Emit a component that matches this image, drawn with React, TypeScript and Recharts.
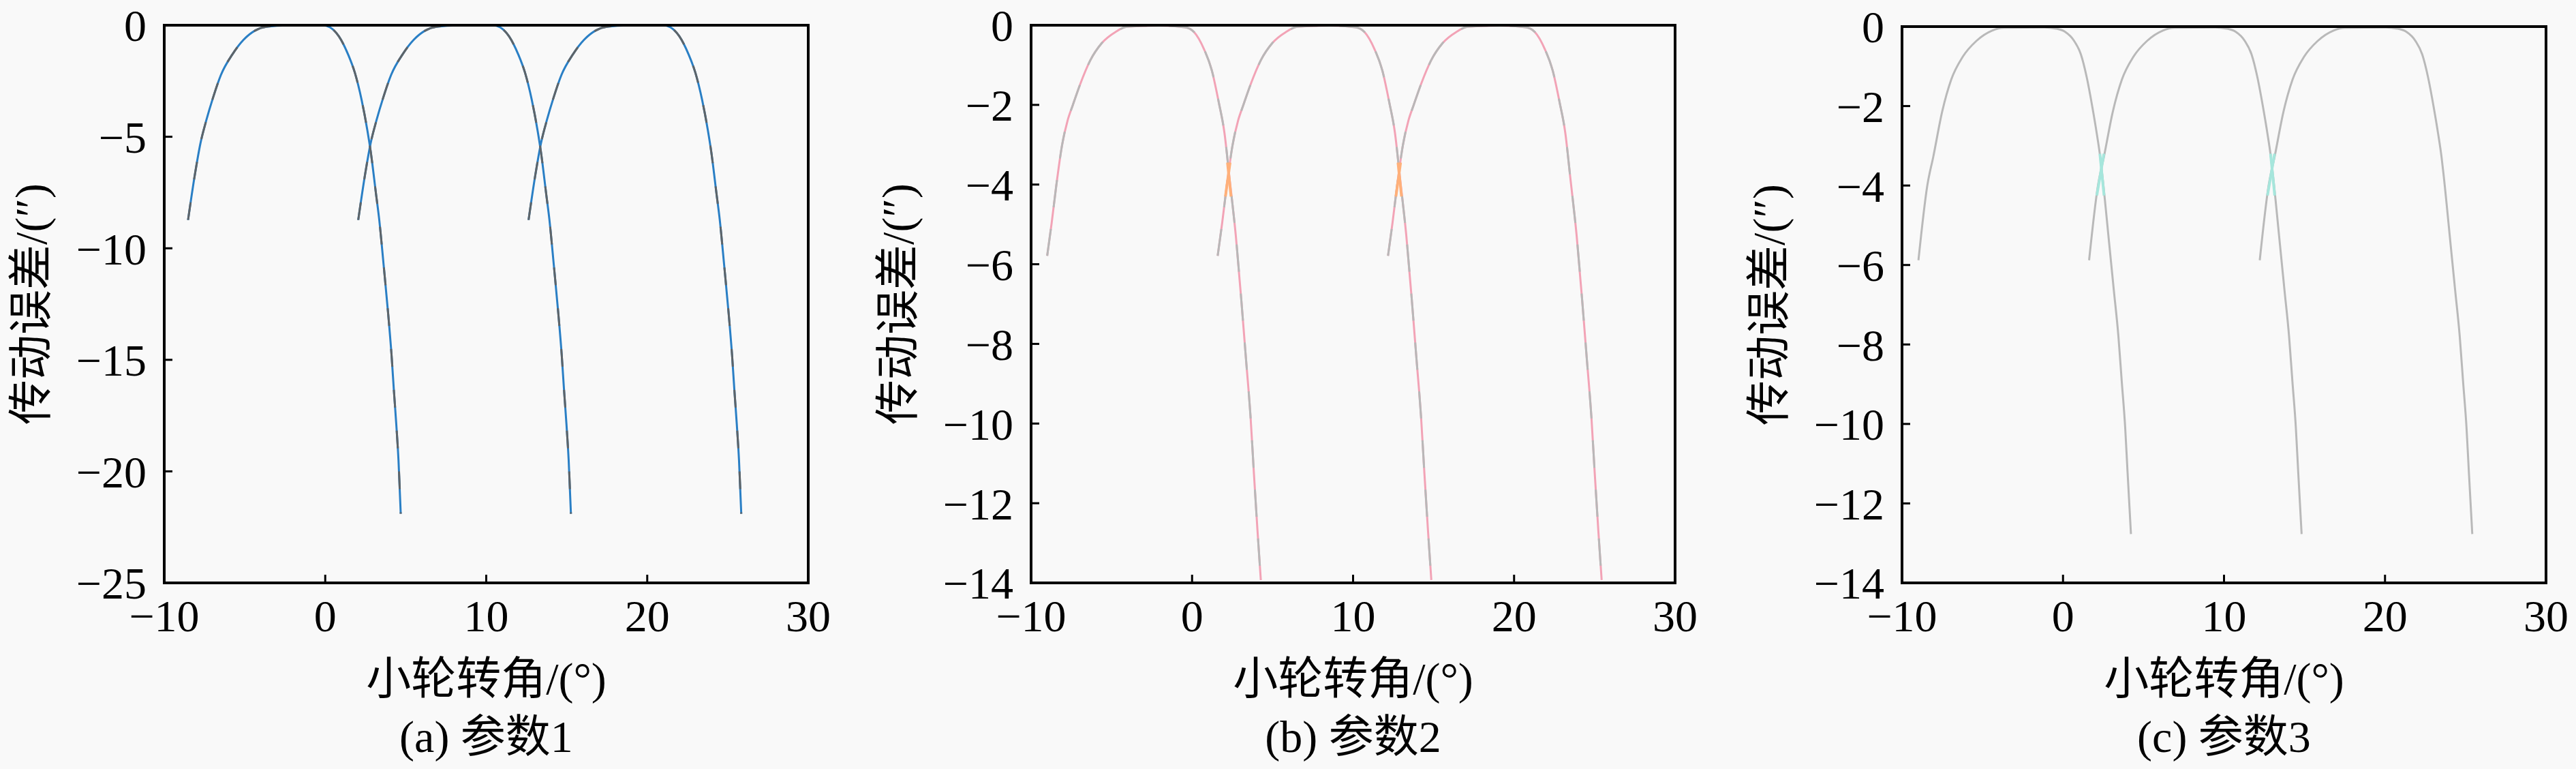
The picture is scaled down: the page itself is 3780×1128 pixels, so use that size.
import { LineChart, Line, XAxis, YAxis } from 'recharts';

// axis ticks
const X_TICKS = [-10, 0, 10, 20, 30];
const Y_TICKS_A = [-25, -20, -15, -10, -5, 0];
const Y_TICKS_BC = [-14, -12, -10, -8, -6, -4, -2, 0];

const PROFILE_A_X = [-8.52, -8.1, -7.75, -7.39, -6.97, -6.48, -5.77, -5.07, -4.36, -3.66, -2.26, -0.15, 0.29, 0.85, 1.42, 1.84, 2.26, 2.61, 2.83, 3.16, 3.35, 3.63, 3.91, 4.12, 4.26, 4.41, 4.55, 4.69];
const PROFILE_A_Y = [-8.73, -6.71, -5.29, -4.27, -3.25, -2.23, -1.31, -0.65, -0.24, -0.07, -0.01, 0, -0.09, -0.5, -1.31, -2.13, -3.35, -4.68, -5.69, -7.6, -8.69, -10.77, -12.95, -14.8, -16.33, -17.86, -19.5, -21.9];

const PROFILE_B_X = [-9.0, -8.72, -8.43, -8.08, -7.73, -7.42, -6.95, -6.32, -5.61, -4.76, -4.06, -2.08, -0.44, 0.12, 0.74, 1.23, 1.66, 2.01, 2.32, 2.72, 3.07, 3.35, 3.63, 3.84, 4.06, 4.27];
const PROFILE_B_Y = [-5.79, -4.96, -4.01, -3.02, -2.39, -2.02, -1.48, -0.88, -0.45, -0.17, -0.04, -0.01, -0.05, -0.17, -0.6, -1.14, -1.94, -2.7, -3.82, -5.3, -6.96, -8.39, -9.82, -11.25, -12.67, -13.93];

const PROFILE_C_X = [-8.98, -8.43, -8.06, -7.5, -6.94, -6.23, -5.38, -4.4, -3.69, -1.15, -0.44, 0.12, 0.69, 1.11, 1.47, 1.82, 2.1, 2.31, 2.43, 2.88, 3.16, 3.44, 3.65, 3.86, 4.01, 4.22];
const PROFILE_C_Y = [-5.88, -4.0, -3.28, -2.13, -1.33, -0.76, -0.36, -0.1, -0.03, -0.02, -0.05, -0.13, -0.36, -0.7, -1.27, -2.02, -2.7, -3.28, -3.7, -5.51, -6.65, -7.79, -8.94, -10.08, -11.22, -12.77];

// where the next tooth pairs start, relative to the first one (degrees)
const TOOTH_SHIFT_A = [0, 10.57, 21.15];
const TOOTH_SHIFT_B = [0, 10.59, 21.17];
const TOOTH_SHIFT_C = [0, 10.6, 21.2];

// coloured bits where two neighbouring curves cross (first crossing; the second is one pitch later)
const CROSS_B_OUT_X = [2.2, 2.42];
const CROSS_B_OUT_Y = [-3.45, -4.3];
const CROSS_B_IN_X = [2.07, 2.36];
const CROSS_B_IN_Y = [-4.3, -3.45];
const CROSS_SHIFT_B = [0, 10.59];

const CROSS_C_OUT_X = [2.29, 2.55];
const CROSS_C_OUT_Y = [-3.2, -4.25];
const CROSS_C_IN_X = [2.1, 2.54];
const CROSS_C_IN_Y = [-4.25, -3.2];
const CROSS_SHIFT_C = [0, 10.6];

const FONT = "'Liberation Serif', 'Times New Roman', 'Noto Sans CJK SC', serif";
const FONT_SIZE = 66;
const Y_AXIS_W = 240;
const PLOT_W = 945;
const RIGHT_PAD = 60;
const CHART_W = Y_AXIS_W + PLOT_W + RIGHT_PAD;
const PAGE_H = 1128;
const FRAME = 4;

const fmt = (v: number) => (v < 0 ? `\u2212${Math.abs(v)}` : `${v}`);

function toPoints(xs: number[], ys: number[], shift: number) {
  return xs.map((x, i) => ({ x: +(x + shift).toFixed(2), y: ys[i] }));
}

interface Cross {
  outX: number[];
  outY: number[];
  inX: number[];
  inY: number[];
  shifts: number[];
  color: string;
}

interface PanelProps {
  plotLeft: number;
  plotTop: number;
  plotHeight: number;
  yDomain: [number, number];
  yTicks: number[];
  xs: number[];
  ys: number[];
  shifts: number[];
  color: string;
  overlay?: string;
  dash?: string;
  cross?: Cross;
  caption: string;
}

const textStyle = {
  position: 'absolute' as const,
  whiteSpace: 'nowrap' as const,
  fontFamily: FONT,
  fontSize: FONT_SIZE,
  lineHeight: 1,
  color: '#000',
};

function Panel({ plotLeft, plotTop, plotHeight, yDomain, yTicks, xs, ys, shifts, color, overlay, dash, cross, caption }: PanelProps) {
  const axisLine = { stroke: '#000', strokeWidth: FRAME };
  const tickLine = { stroke: '#000', strokeWidth: 3 };
  const tickFont = { fill: '#000', fontSize: FONT_SIZE, fontFamily: FONT };
  const cx = plotLeft + PLOT_W / 2;
  const cy = plotTop + plotHeight / 2;
  const curves = shifts.map((s) => toPoints(xs, ys, s));
  const crossSegs = cross
    ? cross.shifts.flatMap((s) => [toPoints(cross.outX, cross.outY, s), toPoints(cross.inX, cross.inY, s)])
    : [];

  return (
    <>
      <div style={{ position: 'absolute', left: plotLeft - Y_AXIS_W, top: 0 }}>
        <LineChart
          width={CHART_W}
          height={PAGE_H}
          margin={{ top: plotTop, right: RIGHT_PAD, left: 0, bottom: 0 }}
        >
          <XAxis
            type="number"
            dataKey="x"
            domain={[-10, 30]}
            ticks={X_TICKS}
            interval={0}
            allowDataOverflow
            tickFormatter={fmt}
            tickSize={-12}
            tickMargin={36}
            height={PAGE_H - plotTop - plotHeight}
            stroke="#000"
            axisLine={axisLine}
            tickLine={tickLine}
            tick={tickFont}
          />
          <XAxis
            xAxisId="top"
            orientation="top"
            type="number"
            dataKey="x"
            domain={[-10, 30]}
            ticks={X_TICKS}
            interval={0}
            tick={false}
            tickSize={-12}
            height={0}
            stroke="#000"
            axisLine={axisLine}
            tickLine={tickLine}
          />
          <YAxis
            type="number"
            domain={yDomain}
            ticks={yTicks}
            interval={0}
            allowDataOverflow
            tickFormatter={fmt}
            tickSize={-12}
            tickMargin={38}
            width={Y_AXIS_W}
            stroke="#000"
            axisLine={axisLine}
            tickLine={tickLine}
            tick={tickFont}
          />
          <YAxis
            yAxisId="right"
            orientation="right"
            type="number"
            domain={yDomain}
            ticks={yTicks}
            interval={0}
            tick={false}
            tickSize={-12}
            width={0}
            stroke="#000"
            axisLine={axisLine}
            tickLine={tickLine}
          />
          {curves.map((pts, i) => (
            <Line
              key={`base-${i}`}
              data={pts}
              dataKey="y"
              type="monotone"
              stroke={color}
              strokeWidth={3}
              dot={false}
              activeDot={false}
              isAnimationActive={false}
            />
          ))}
          {overlay &&
            curves.map((pts, i) => (
              <Line
                key={`over-${i}`}
                data={pts}
                dataKey="y"
                type="monotone"
                stroke={overlay}
                strokeWidth={3}
                strokeDasharray={dash}
                dot={false}
                activeDot={false}
                isAnimationActive={false}
              />
            ))}
          {crossSegs.map((pts, i) => (
            <Line
              key={`cross-${i}`}
              data={pts}
              dataKey="y"
              type="linear"
              stroke={cross!.color}
              strokeWidth={4}
              dot={false}
              activeDot={false}
              isAnimationActive={false}
            />
          ))}
        </LineChart>
      </div>
      {/* box around the plot area */}
      <div
        style={{
          position: 'absolute',
          left: plotLeft - FRAME / 2,
          top: plotTop - FRAME / 2,
          width: PLOT_W + FRAME,
          height: plotHeight + FRAME,
          border: `${FRAME}px solid #000`,
          boxSizing: 'border-box',
          pointerEvents: 'none',
        }}
      />
      <div
        style={{
          ...textStyle,
          left: plotLeft - 195,
          top: cy,
          transform: 'translate(-50%, -50%) rotate(-90deg)',
        }}
      >
        传动误差/(″)
      </div>
      <div style={{ ...textStyle, left: cx, top: 996, transform: 'translate(-50%, -50%)' }}>
        小轮转角/(°)
      </div>
      <div style={{ ...textStyle, left: cx, top: 1081, transform: 'translate(-50%, -50%)' }}>
        {caption}
      </div>
    </>
  );
}

export default function App() {
  return (
    <div
      style={{
        position: 'absolute',
        left: 0,
        top: 0,
        width: 3780,
        height: PAGE_H,
        background: '#f9f9f9',
        overflow: 'hidden',
      }}
    >
      <Panel
        plotLeft={241}
        plotTop={37}
        plotHeight={818}
        yDomain={[-25, 0]}
        yTicks={Y_TICKS_A}
        xs={PROFILE_A_X}
        ys={PROFILE_A_Y}
        shifts={TOOTH_SHIFT_A}
        color="#2a7fc5"
        overlay="#5e6468"
        dash="26 34"
        caption="(a) 参数1"
      />
      <Panel
        plotLeft={1513}
        plotTop={37}
        plotHeight={818}
        yDomain={[-14, 0]}
        yTicks={Y_TICKS_BC}
        xs={PROFILE_B_X}
        ys={PROFILE_B_Y}
        shifts={TOOTH_SHIFT_B}
        color="#f2a3b6"
        overlay="#b8b8b8"
        dash="40 32"
        cross={{
          outX: CROSS_B_OUT_X,
          outY: CROSS_B_OUT_Y,
          inX: CROSS_B_IN_X,
          inY: CROSS_B_IN_Y,
          shifts: CROSS_SHIFT_B,
          color: '#ffb07a',
        }}
        caption="(b) 参数2"
      />
      <Panel
        plotLeft={2791}
        plotTop={39}
        plotHeight={816}
        yDomain={[-14, 0]}
        yTicks={Y_TICKS_BC}
        xs={PROFILE_C_X}
        ys={PROFILE_C_Y}
        shifts={TOOTH_SHIFT_C}
        color="#b9b9b9"
        cross={{
          outX: CROSS_C_OUT_X,
          outY: CROSS_C_OUT_Y,
          inX: CROSS_C_IN_X,
          inY: CROSS_C_IN_Y,
          shifts: CROSS_SHIFT_C,
          color: '#a6e6dc',
        }}
        caption="(c) 参数3"
      />
    </div>
  );
}
